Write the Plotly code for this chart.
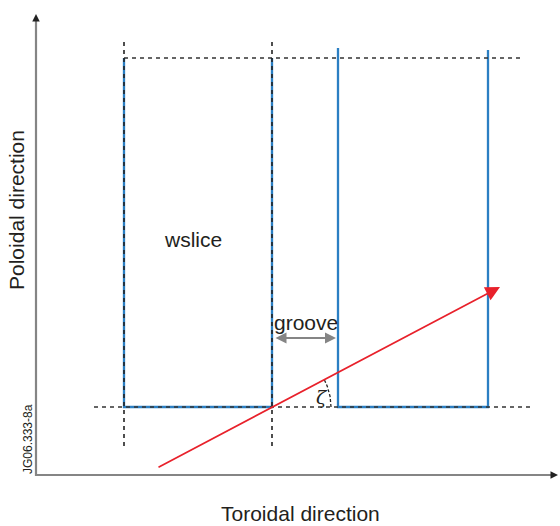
import numpy as np
import plotly.graph_objects as go

# Geometry of the diagram (canvas-pixel units)
axis_origin = [36, 475]
axis_x_end = 558
axis_y_end = 14

wslice_x = [124, 272]          # left slice edges
next_x = [338, 488]            # next slice edges
next_top = [48, 50]
slice_top = 58
slice_base = 407

dash_h_top = [124, 520]
dash_h_base = [94, 530]
dash_v_span = [42, 446]

ray_start = [157, 468]
ray_end = [500, 287]

groove_y = 338
arc_radius = 59

labels = {
    "wslice": (193, 239),
    "groove": (306, 322),
    "ζ": (322, 397),
}

BLUE = "#2b7fc3"
RED = "#e8212b"
TXT = "#231f20"
GRAY = "#858585"
DASH = "4px,4px"

fig = go.Figure()

def line(xs, ys, color, width, dash=None):
    fig.add_trace(go.Scatter(x=xs, y=ys, mode="lines", hoverinfo="skip",
                             line=dict(color=color, width=width, dash=dash)))

# blue slice outlines
line([wslice_x[0], wslice_x[0], wslice_x[1], wslice_x[1]],
     [slice_top, slice_base, slice_base, slice_top], BLUE, 2.3)
line([next_x[0], next_x[0], next_x[1], next_x[1]],
     [next_top[0], slice_base, slice_base, next_top[1]], BLUE, 2.3)

# black dashed guides
line(dash_h_top, [slice_top, slice_top], "#333333", 1.6, DASH)
line(dash_h_base, [slice_base, slice_base], "#333333", 1.6, DASH)
for xv in wslice_x:
    line([xv, xv], dash_v_span, "#222222", 1.6, DASH)

# angle arc
ang = np.arctan2(ray_start[1] - ray_end[1], ray_end[0] - ray_start[0])
th = np.linspace(0, ang, 30)
line(wslice_x[1] + arc_radius * np.cos(th), slice_base - arc_radius * np.sin(th),
     "#222222", 1.3, "3px,2px")

# axes
line([axis_origin[0], axis_origin[0], axis_x_end - 6],
     [axis_y_end + 6, axis_origin[1], axis_origin[1]], GRAY, 2.2)

annotations = [
    dict(x=axis_origin[0], y=axis_y_end, ax=axis_origin[0], ay=axis_y_end + 8,
         arrowcolor="#222222"),
    dict(x=axis_x_end, y=axis_origin[1], ax=axis_x_end - 8, ay=axis_origin[1],
         arrowcolor="#222222"),
    dict(x=ray_end[0], y=ray_end[1], ax=ray_start[0], ay=ray_start[1],
         arrowcolor=RED, arrowwidth=1.7, arrowsize=1.7),
    dict(x=next_x[0] - 2, y=groove_y, ax=wslice_x[1] + 2, ay=groove_y,
         arrowcolor=GRAY, arrowwidth=2, arrowside="end+start", arrowsize=1.1),
]
for a in annotations:
    a.update(xref="x", yref="y", axref="x", ayref="y", text="", showarrow=True,
             arrowhead=2, standoff=0, startstandoff=0)
    a.setdefault("arrowwidth", 1.5)
    a.setdefault("arrowsize", 1.0)
    fig.add_annotation(**a)

font = dict(family="Liberation Sans, Arial, sans-serif", color=TXT)
fig.add_annotation(x=labels["wslice"][0], y=labels["wslice"][1], text="wslice",
                   showarrow=False, font=dict(size=21, **font))
fig.add_annotation(x=labels["groove"][0], y=labels["groove"][1], text="groove",
                   showarrow=False, font=dict(size=21, **font))
fig.add_annotation(x=labels["ζ"][0], y=labels["ζ"][1], text="<i>ζ</i>",
                   showarrow=False, font=dict(size=19, family="DejaVu Serif", color=TXT))
fig.add_annotation(x=16, y=210, text="Poloidal direction", textangle=-90,
                   showarrow=False, font=dict(size=21, **font))
fig.add_annotation(x=300, y=513, text="Toroidal direction",
                   showarrow=False, font=dict(size=21, **font))
fig.add_annotation(x=28, y=439, text="JG06.333-8a", textangle=-90,
                   showarrow=False, font=dict(size=12, **font))

fig.update_layout(
    width=560, height=526, margin=dict(l=0, r=0, t=0, b=0),
    paper_bgcolor="white", plot_bgcolor="white", showlegend=False,
    xaxis=dict(range=[0, 560], visible=False, fixedrange=True),
    yaxis=dict(range=[526, 0], visible=False, fixedrange=True),
)
fig.write_html("out.html", config={"displayModeBar": False},
               post_script="document.body.style.margin='0';document.body.style.overflow='hidden';")
